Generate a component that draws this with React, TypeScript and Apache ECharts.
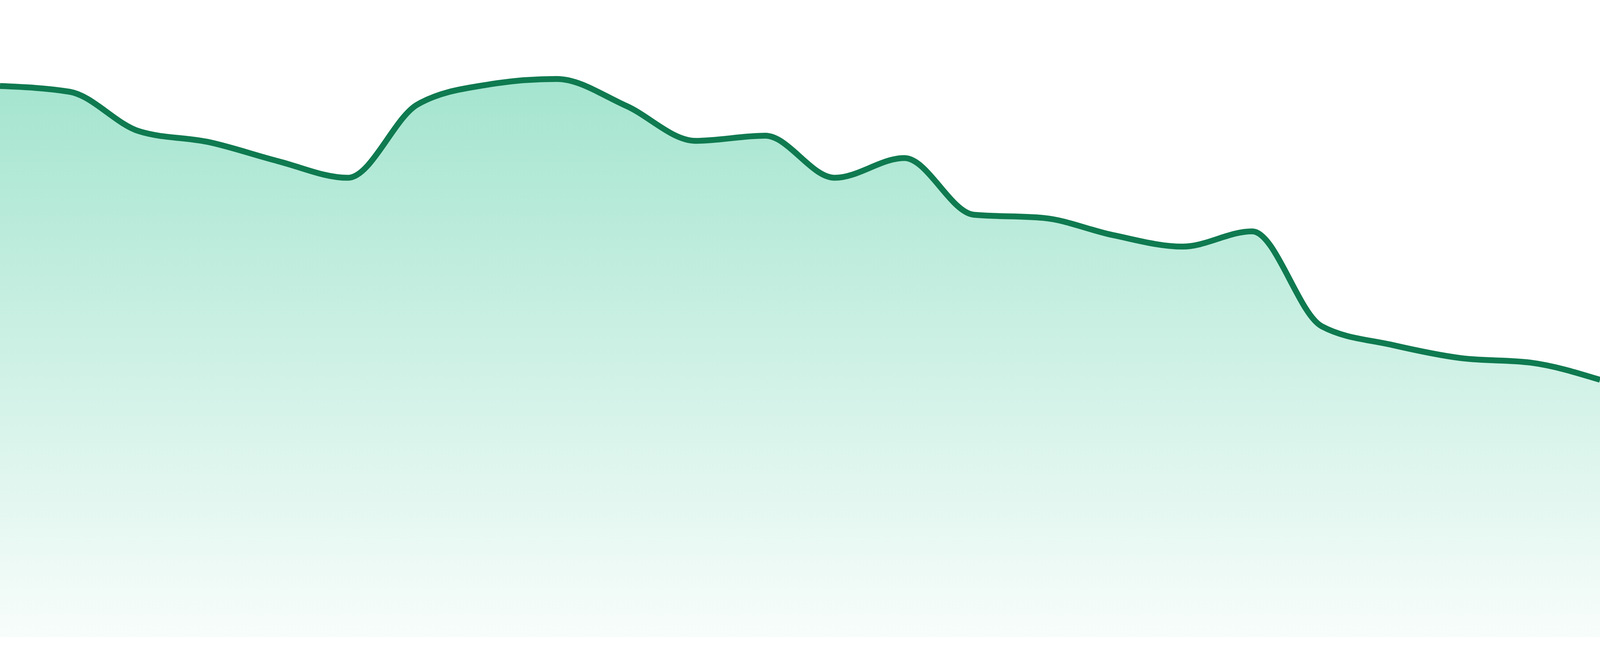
import React, { useEffect, useRef } from 'react';
import * as echarts from 'echarts';

// 24 evenly spaced samples, left to right
const labels = [
  'P1', 'P2', 'P3', 'P4', 'P5', 'P6', 'P7', 'P8', 'P9', 'P10', 'P11', 'P12',
  'P13', 'P14', 'P15', 'P16', 'P17', 'P18', 'P19', 'P20', 'P21', 'P22', 'P23', 'P24',
];

const values = [
  86.5, 85.6, 79.4, 77.7, 74.7, 72.1, 83.6, 86.7, 87.6, 83.4, 77.9, 78.7,
  72.1, 75.2, 66.3, 65.8, 63.1, 61.3, 63.7, 48.8, 45.9, 43.8, 43.1, 40.4,
];

const yMin = 0;
const yMax = 100;

// monotone cubic, same tangents as d3 curveMonotoneX
function sign(v: number) {
  return v < 0 ? -1 : 1;
}

function tangents(pts: number[][]) {
  const n = pts.length;
  const t: number[] = new Array(n).fill(0);
  for (let i = 1; i < n - 1; i++) {
    const h0 = pts[i][0] - pts[i - 1][0];
    const h1 = pts[i + 1][0] - pts[i][0];
    const s0 = (pts[i][1] - pts[i - 1][1]) / h0;
    const s1 = (pts[i + 1][1] - pts[i][1]) / h1;
    const p = (s0 * h1 + s1 * h0) / (h0 + h1);
    t[i] = (sign(s0) + sign(s1)) * Math.min(Math.abs(s0), Math.abs(s1), 0.5 * Math.abs(p)) || 0;
  }
  const hs = pts[1][0] - pts[0][0];
  t[0] = (3 * (pts[1][1] - pts[0][1]) / hs - t[1]) / 2;
  const he = pts[n - 1][0] - pts[n - 2][0];
  t[n - 1] = (3 * (pts[n - 1][1] - pts[n - 2][1]) / he - t[n - 2]) / 2;
  return t;
}

function curvePath(pts: number[][]) {
  const t = tangents(pts);
  let d = `M${pts[0][0]},${pts[0][1]}`;
  for (let i = 0; i < pts.length - 1; i++) {
    const [x0, y0] = pts[i];
    const [x1, y1] = pts[i + 1];
    const dx = (x1 - x0) / 3;
    d += `C${x0 + dx},${y0 + dx * t[i]},${x1 - dx},${y1 - dx * t[i + 1]},${x1},${y1}`;
  }
  return d;
}

export default function App() {
  const chartRef = useRef<HTMLDivElement>(null);

  useEffect(() => {
    if (!chartRef.current) return;

    const myChart = echarts.init(chartRef.current, null, { renderer: 'svg' });

    // whole curve drawn once, from the axis coordinates of every point
    const renderItem = (params: any, api: any) => {
      if (params.dataIndex !== 0) return null;
      const pts = values.map((v, i) => api.coord([i, v]));
      const base = api.coord([0, yMin])[1];
      const line = curvePath(pts);
      const last = pts[pts.length - 1];
      const area = `${line}L${last[0]},${base}L${pts[0][0]},${base}Z`;
      return {
        type: 'group',
        children: [
          {
            type: 'path',
            shape: { pathData: area },
            style: {
              fill: new echarts.graphic.LinearGradient(0, 0, 0, 1, [
                { offset: 0, color: 'rgba(16, 185, 129, 0.38)' },
                { offset: 1, color: 'rgba(16, 185, 129, 0.03)' },
              ]),
              stroke: 'none',
            },
          },
          {
            type: 'path',
            shape: { pathData: line },
            style: {
              fill: 'none',
              stroke: '#0f7a50',
              lineWidth: 15,
              lineJoin: 'round',
            },
          },
        ],
      };
    };

    const option = {
      animation: false,
      grid: {
        left: 0,
        right: 0,
        top: 0,
        bottom: 48,
      },
      xAxis: {
        type: 'category',
        data: labels,
        boundaryGap: false,
        show: false,
      },
      yAxis: {
        type: 'value',
        min: yMin,
        max: yMax,
        show: false,
      },
      series: [
        {
          type: 'custom',
          silent: true,
          clip: false,
          data: values.map((v, i) => [i, v]),
          renderItem,
        },
      ],
    };

    myChart.setOption(option);

    const handleResize = () => myChart.resize();
    window.addEventListener('resize', handleResize);

    return () => {
      window.removeEventListener('resize', handleResize);
      myChart.dispose();
    };
  }, []);

  return (
    <div
      ref={chartRef}
      style={{ position: 'fixed', left: 0, top: 0, width: '100vw', height: '100vh', background: '#fff' }}
    />
  );
}
